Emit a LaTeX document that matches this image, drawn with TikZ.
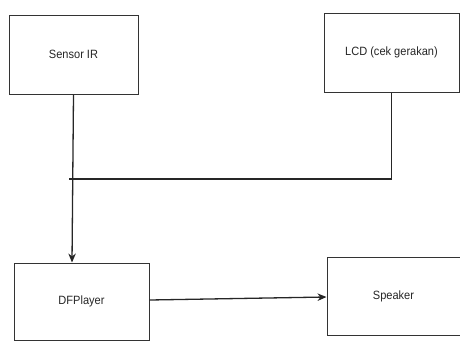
\documentclass[tikz,border=0pt]{standalone}
\usepackage{fontspec}
\setmainfont{Liberation Sans}
\usetikzlibrary{arrows.meta}
\begin{document}
\begin{tikzpicture}[x=1pt,y=-1pt,
  box/.style={draw=black!80,line width=1pt,fill=white,inner sep=0pt,
    text=black!85,font=\fontsize{12}{14}\selectfont},
  conn/.style={draw=black!85,line width=1.3pt},
  arr/.style={conn,-{Stealth[length=9pt,width=7.5pt]}}]
\useasboundingbox (0,0) rectangle (460,341);
\node[box,minimum width=129pt,minimum height=79pt] (sensor) at (73.5,54.5) {\scalebox{0.92}[1]{Sensor IR}};
\node[box,minimum width=135pt,minimum height=79pt] (lcd) at (391.5,52.5) {\scalebox{0.92}[1]{LCD (cek gerakan)}};
\node[box,minimum width=135pt,minimum height=77pt] (dfp) at (81.5,301.5) {\scalebox{0.92}[1]{DFPlayer}};
\node[box,minimum width=133pt,minimum height=78pt] (spk) at (393.5,296) {\scalebox{0.92}[1]{Speaker}};
\coordinate (j) at (69,179);
\draw[arr] (sensor.south) -- ([xshift=-1.5pt]dfp.north west -| sensor.south);
\draw[conn] (lcd.south) |- (j);
\draw[arr] ([yshift=1.5pt]dfp.east) -- ([yshift=-1pt]spk.west);
\end{tikzpicture}
\end{document}
